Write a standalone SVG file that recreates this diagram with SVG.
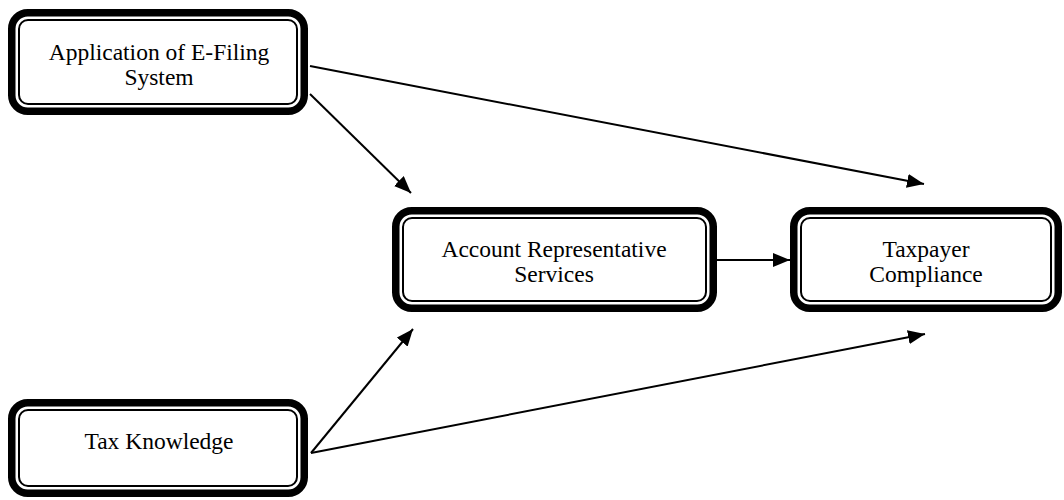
<svg xmlns="http://www.w3.org/2000/svg" width="1064" height="500" viewBox="0 0 1064 500">
<style>
.outer{fill:#fff;stroke:#000;stroke-width:7.5}
.inner{fill:none;stroke:#000;stroke-width:2}
.lbl{font-family:"Liberation Serif","Times New Roman",serif;font-size:23.5px;fill:#000;text-anchor:middle}
.conn{stroke:#000;stroke-width:2;fill:none}
</style>
<defs>
<marker id="ah" viewBox="0 0 17 14" refX="17" refY="7" markerWidth="17" markerHeight="14" markerUnits="userSpaceOnUse" orient="auto">
<path d="M0,0 L17,7 L0,14 Z" fill="#000"/>
</marker>
</defs>
<rect width="1064" height="500" fill="#fff"/>
<g id="connectors">
<line class="conn" x1="310" y1="66" x2="924" y2="184" marker-end="url(#ah)"/>
<line class="conn" x1="310" y1="94" x2="411" y2="193" marker-end="url(#ah)"/>
<line class="conn" x1="717" y1="260" x2="790" y2="260" marker-end="url(#ah)"/>
<line class="conn" x1="311" y1="453" x2="413" y2="329" marker-end="url(#ah)"/>
<line class="conn" x1="311" y1="453" x2="925" y2="334" marker-end="url(#ah)"/>
</g>
<g id="node-efiling">
<rect class="outer" x="11.75" y="12.75" width="292.5" height="98.5" rx="16"/>
<rect class="inner" x="19" y="20" width="278" height="84" rx="9"/>
<text class="lbl" x="159" y="60">Application of E-Filing</text>
<text class="lbl" x="159" y="85">System</text>
</g>
<g id="node-ar">
<rect class="outer" x="395.75" y="210.75" width="317.5" height="97.5" rx="16"/>
<rect class="inner" x="403" y="218" width="303" height="83" rx="9"/>
<text class="lbl" x="554" y="256.5">Account Representative</text>
<text class="lbl" x="554" y="281.5">Services</text>
</g>
<g id="node-compliance">
<rect class="outer" x="793.75" y="210.75" width="264.5" height="97.5" rx="16"/>
<rect class="inner" x="801" y="218" width="250" height="83" rx="9"/>
<text class="lbl" x="926" y="256.5">Taxpayer</text>
<text class="lbl" x="926" y="281.5">Compliance</text>
</g>
<g id="node-knowledge">
<rect class="outer" x="11.75" y="402.75" width="292.5" height="90.5" rx="16"/>
<rect class="inner" x="19" y="410" width="278" height="76" rx="9"/>
<text class="lbl" x="159" y="449">Tax Knowledge</text>
</g>
</svg>
